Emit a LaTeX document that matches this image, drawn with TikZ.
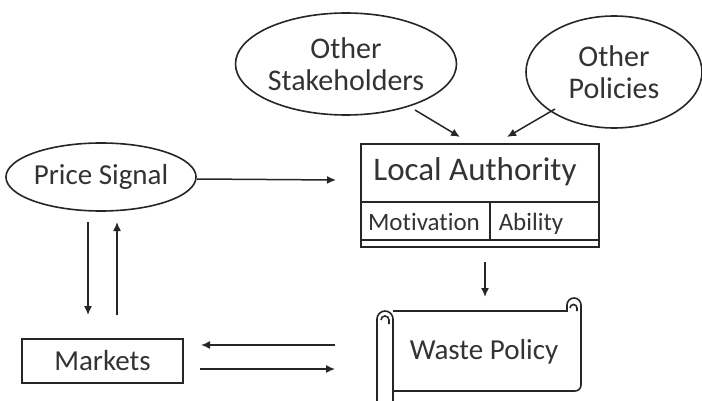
\documentclass[tikz,border=0pt]{standalone}
\usepackage{fontspec}
\setmainfont[Ligatures={NoCommon}]{Carlito}
\usetikzlibrary{shapes.geometric,arrows.meta}
\begin{document}
\begin{tikzpicture}[x=1pt,y=-1pt,
  lw/.style={line width=1.6pt, draw=black!85},
  txt/.style={text=black!80, inner sep=0pt},
  oval/.style={ellipse, lw, txt, align=center, font=\fontsize{30}{32}\selectfont},
  arr/.style={line width=1.5pt, draw=black!85, -{Latex[length=9pt,width=8pt]}},
  big/.style={txt, font=\fontsize{33}{36}\selectfont},
  mid/.style={txt, font=\fontsize{29}{32}\selectfont},
  small/.style={txt, font=\fontsize{25}{28}\selectfont, anchor=base}]
\useasboundingbox (0,0) rectangle (702,401);
\fill[white] (0,0) rectangle (702,401);

% ellipses
\node[oval, minimum width=184pt, minimum height=102pt] (stake) at (346,64) {Other\\Stakeholders};
\node[oval, minimum width=176pt, minimum height=112pt] (pol) at (614,72) {Other\\Policies};
\node[oval, minimum width=178pt, minimum height=68pt, font=\fontsize{29}{32}\selectfont] (price) at (101,177) {Price Signal};

% local authority
\node[lw, rectangle, minimum width=238pt, minimum height=103pt, anchor=north west, inner sep=0pt] (la) at (360,143) {};
\draw[lw] (360,202) -- (598,202);
\draw[lw] (360,240) -- (598,240);
\draw[lw] (490,202) -- (490,240);
\node[big] (latitle) at (475,172) {Local Authority};
\node[small] (mot) at (424,230) {Motivation};
\node[small] (abl) at (531,230) {Ability};

% markets
\node[lw, rectangle, minimum width=161pt, minimum height=44pt, mid] (mk) at (102.5,361) {Markets};

% waste policy scroll
\draw[lw] (393,311) -- (567,311) -- (567,305) arc (180:360:7) -- (581,385) arc (0:90:6) -- (393,391);
\draw[lw] (570,308) arc (180:360:3.5) -- (577,311);
\draw[lw] (377,401) -- (377,319) arc (180:360:8) -- (393,401);
\draw[lw] (381,320) arc (180:360:4) -- (389,324);
\node[mid] (wp) at (484,352) {Waste Policy};

% connectors
\coordinate (s1) at (415,110); \coordinate (s2) at (460,137);
\coordinate (p1) at (555,109); \coordinate (p2) at (507,137);
\coordinate (ps1) at (197,179); \coordinate (ps2) at (336,180);
\coordinate (d1) at (88,222); \coordinate (d2) at (88,315);
\coordinate (u1) at (117,315); \coordinate (u2) at (117,222);
\coordinate (ml1) at (335,345); \coordinate (ml2) at (201,345);
\coordinate (mr1) at (200,369); \coordinate (mr2) at (335,369);
\coordinate (lw1) at (485,262); \coordinate (lw2) at (485,297);
\draw[arr] (s1) -- (s2);
\draw[arr] (p1) -- (p2);
\draw[arr] (ps1) -- (ps2);
\draw[arr] (d1) -- (d2);
\draw[arr] (u1) -- (u2);
\draw[arr] (ml1) -- (ml2);
\draw[arr] (mr1) -- (mr2);
\draw[arr] (lw1) -- (lw2);
\end{tikzpicture}
\end{document}
